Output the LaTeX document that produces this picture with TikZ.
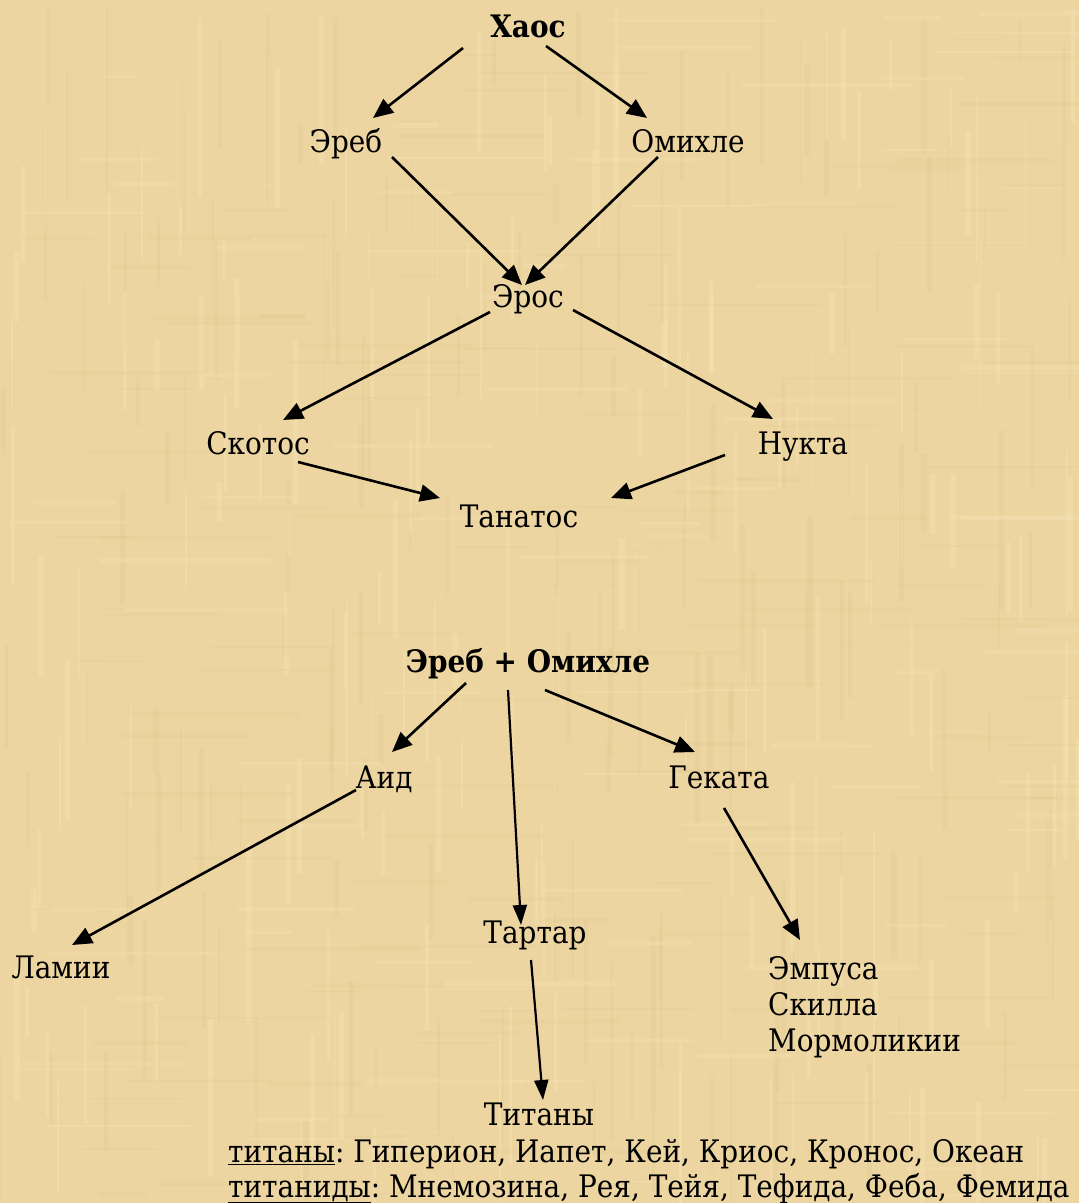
\documentclass[tikz,border=0pt]{standalone}
\usepackage{fontspec}
\setmainfont{DejaVu Serif}[FakeStretch=0.9]
\usetikzlibrary{arrows.meta}
\definecolor{papyrus}{RGB}{236,213,160}
\definecolor{papdark}{RGB}{214,186,122}
\definecolor{paplight}{RGB}{248,234,195}
\tikzset{
  lbl/.style={inner sep=0pt, anchor=base, font=\fontsize{31}{36}\selectfont\frenchspacing, text=black},
  blbl/.style={lbl, font=\fontsize{31}{36}\selectfont\bfseries},
  arr/.style={line width=2.6pt, -{Triangle[length=20pt,width=17pt]}},
  arrthin/.style={line width=2.2pt, -{Triangle[length=20pt,width=14pt]}}
}
\begin{document}
\begin{tikzpicture}[x=1pt,y=-1pt]
\useasboundingbox (0,0) rectangle (1079,1203);
\fill[papyrus] (0,0) rectangle (1079,1203);
\pgfmathsetseed{11}
\begin{scope}
\clip (0,0) rectangle (1079,1203);
\foreach \i in {1,...,160}{
  \pgfmathsetmacro{\xx}{rnd*1079}
  \pgfmathsetmacro{\ww}{1+rnd*5}
  \pgfmathsetmacro{\yy}{rnd*1150}
  \pgfmathsetmacro{\hh}{40+rnd*140}
  \fill[papdark, opacity=0.13] (\xx,\yy) rectangle ++(\ww,\hh);
}
\foreach \i in {1,...,160}{
  \pgfmathsetmacro{\xx}{rnd*1079}
  \pgfmathsetmacro{\ww}{1+rnd*5}
  \pgfmathsetmacro{\yy}{rnd*1150}
  \pgfmathsetmacro{\hh}{40+rnd*140}
  \fill[paplight, opacity=0.25] (\xx,\yy) rectangle ++(\ww,\hh);
}
\foreach \i in {1,...,140}{
  \pgfmathsetmacro{\xx}{rnd*1030}
  \pgfmathsetmacro{\ww}{40+rnd*140}
  \pgfmathsetmacro{\yy}{rnd*1203}
  \pgfmathsetmacro{\hh}{1+rnd*4}
  \fill[papdark, opacity=0.11] (\xx,\yy) rectangle ++(\ww,\hh);
}
\foreach \i in {1,...,100}{
  \pgfmathsetmacro{\xx}{rnd*1030}
  \pgfmathsetmacro{\ww}{40+rnd*140}
  \pgfmathsetmacro{\yy}{rnd*1203}
  \pgfmathsetmacro{\hh}{1+rnd*4}
  \fill[paplight, opacity=0.22] (\xx,\yy) rectangle ++(\ww,\hh);
}
\end{scope}

% nodes (positioned by baseline)
\node[blbl] (haos) at (528,37) {Хаос};
\node[lbl] (ereb) at (346,152) {Эреб};
\node[lbl] (omih) at (688,152) {Омихле};
\node[lbl] (eros) at (528,307) {Эрос};
\node[lbl] (skot) at (258,454) {Скотос};
\node[lbl] (nukt) at (803,454) {Нукта};
\node[lbl] (tana) at (519,527) {Танатос};

\node[blbl] (eo) at (528,672) {Эреб + Омихле};
\node[lbl] (aid) at (384,788) {Аид};
\node[lbl] (gek) at (719,788) {Геката};
\node[lbl] (lam) at (61,978) {Ламии};
\node[lbl] (tart) at (535,943) {Тартар};
\node[lbl, anchor=base west] (emp1) at (768,979) {Эмпуса};
\node[lbl, anchor=base west] (emp2) at (768,1015) {Скилла};
\node[lbl, anchor=base west] (emp3) at (768,1051) {Мормоликии};
\node[lbl] (tit) at (539,1125) {Титаны};
\node[lbl, anchor=base west] (l1) at (228,1162) {\underline{титаны}: Гиперион, Иапет, Кей, Криос, Кронос, Океан};
\node[lbl, anchor=base west] (l2) at (228,1197) {\underline{титаниды}: Мнемозина, Рея, Тейя, Тефида, Феба, Фемида};

% connectors
\draw[arr] ([shift={(-65,11)}]haos.base) -- ([shift={(27,-34)}]ereb.base);
\draw[arr] ([shift={(18,9)}]haos.base) -- ([shift={(-41,-34)}]omih.base);
\draw[arr] ([shift={(46,5)}]ereb.base) -- ([shift={(-6,-22)}]eros.base);
\draw[arr] ([shift={(-30,5)}]omih.base) -- ([shift={(-3,-22)}]eros.base);
\draw[arr] ([shift={(-38,5)}]eros.base) -- ([shift={(25,-34)}]skot.base);
\draw[arr] ([shift={(45,3)}]eros.base) -- ([shift={(-30,-35)}]nukt.base);
\draw[arr] ([shift={(40,8)}]skot.base) -- ([shift={(-79,-29)}]tana.base);
\draw[arr] ([shift={(-78,1)}]nukt.base) -- ([shift={(92,-29)}]tana.base);

\draw[arr] ([shift={(-62,11)}]eo.base) -- ([shift={(8,-36)}]aid.base);
\draw[arrthin] ([shift={(-20,18)}]eo.base) -- ([shift={(-14,-18)}]tart.base);
\draw[arr] ([shift={(17,18)}]eo.base) -- ([shift={(-24,-36)}]gek.base);
\draw[arr] ([shift={(-28,2)}]aid.base) -- ([shift={(11,-33)}]lam.base);
\draw[arr] ([shift={(5,20)}]gek.base) -- ([shift={(32,-39)}]emp1.base west);
\draw[arrthin] ([shift={(-4,17)}]tart.base) -- ([shift={(4,-25)}]tit.base);
\end{tikzpicture}
\end{document}
